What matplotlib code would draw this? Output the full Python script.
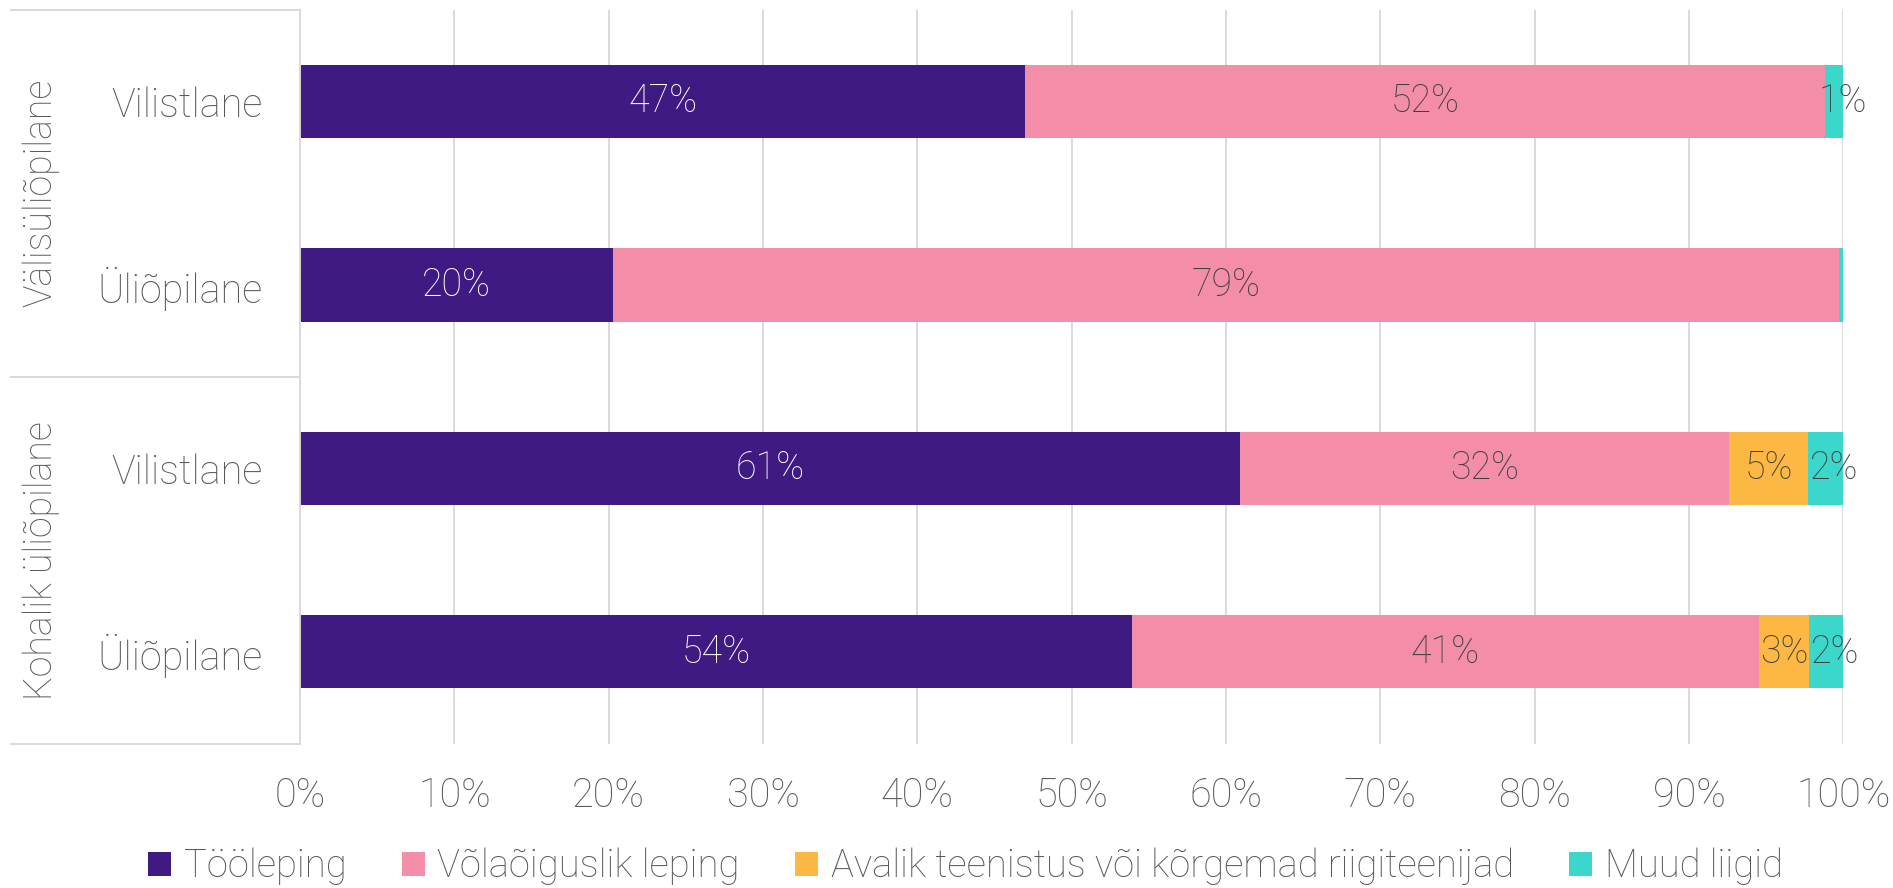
import matplotlib
matplotlib.use("Agg")
import matplotlib.pyplot as plt
from matplotlib.patches import Patch
import numpy as np

plt.rcParams['font.family'] = ['Roboto', 'DejaVu Sans']

# andmed
groups = ["Välisüliõpilane", "Kohalik üliõpilane"]
cats = ["Vilistlane", "Üliõpilane", "Vilistlane", "Üliõpilane"]
series = ["Tööleping", "Võlaõiguslik leping",
          "Avalik teenistus või kõrgemad riigiteenijad", "Muud liigid"]
toolep = [47.0, 20.3, 60.9, 53.9]
vola = [51.8, 79.4, 31.7, 40.6]
avalik = [0.0, 0.0, 5.1, 3.3]
muud = [1.2, 0.3, 2.3, 2.2]
xticks = [0, 10, 20, 30, 40, 50, 60, 70, 80, 90, 100]

colors = ["#3F1A82", "#F48DA8", "#FDB843", "#3CD7CB"]
txtcol = ["white", "#404040", "#404040", "#404040"]
nudge = [0, 0, 0, 6]   # viimase sildi väike nihe paremale (pt)
grid = "#D9D9D9"
fs = 28.5

fig = plt.figure(figsize=(18.93, 8.88), dpi=100)
ax = fig.add_axes([0.1585, 0.1627, 0.9738 - 0.1585, 0.9890 - 0.1627])

y = np.arange(len(cats))
left = np.zeros(len(cats))
for vals, c, tc, dx in zip([toolep, vola, avalik, muud], colors, txtcol, nudge):
    vals = np.array(vals)
    ax.barh(y, vals, left=left, height=0.4, color=c, edgecolor='none', zorder=2)
    for yi, l, v in zip(y, left, vals):
        if round(v) >= 1:
            ax.annotate(f"{round(v)}%", (l + v / 2, yi), xytext=(dx, 0),
                        textcoords='offset points', ha='center', va='center',
                        fontsize=27, color=tc, fontweight='light', zorder=3,
                        annotation_clip=False)
    left = left + vals

ax.set_xlim(0, 100)
ax.set_ylim(3.5, -0.5)
ax.set_xticks(xticks)
ax.set_xticklabels([f"{t}%" for t in xticks])
ax.set_yticks(y)
ax.set_yticklabels(cats)
ax.tick_params(axis='x', length=0, pad=24, labelsize=fs, labelcolor="#595959")
ax.tick_params(axis='y', length=0, pad=27, labelsize=fs, labelcolor="#595959")
for lab in ax.get_xticklabels() + ax.get_yticklabels():
    lab.set_fontweight('light')
for s in ['top', 'right', 'bottom']:
    ax.spines[s].set_visible(False)
ax.spines['left'].set_color(grid)
ax.spines['left'].set_linewidth(1.4)
ax.grid(axis='x', color=grid, linewidth=1.4)
ax.set_axisbelow(True)

# vasak tabeliosa
for yy in [1.0, 0.5, 0.0]:
    ax.plot([-0.187, 0], [yy, yy], transform=ax.transAxes, color=grid,
            linewidth=1.4, clip_on=False)
for g, yy in zip(groups, [0.75, 0.25]):
    ax.text(-0.168, yy, g, transform=ax.transAxes, rotation=90, ha='center',
            va='center', fontsize=27, color="#595959", fontweight='light')

handles = [Patch(facecolor=c, edgecolor='none') for c in colors]
leg = fig.legend(handles, series, loc='center', bbox_to_anchor=(0.51, 0.024),
                 ncol=4, frameon=False, fontsize=27.5, handlelength=0.6,
                 handleheight=0.6, handletextpad=0.33, columnspacing=1.45,
                 borderpad=0)
for t in leg.get_texts():
    t.set_color("#595959")
    t.set_fontweight('light')

fig.savefig("out.png", dpi=100)
